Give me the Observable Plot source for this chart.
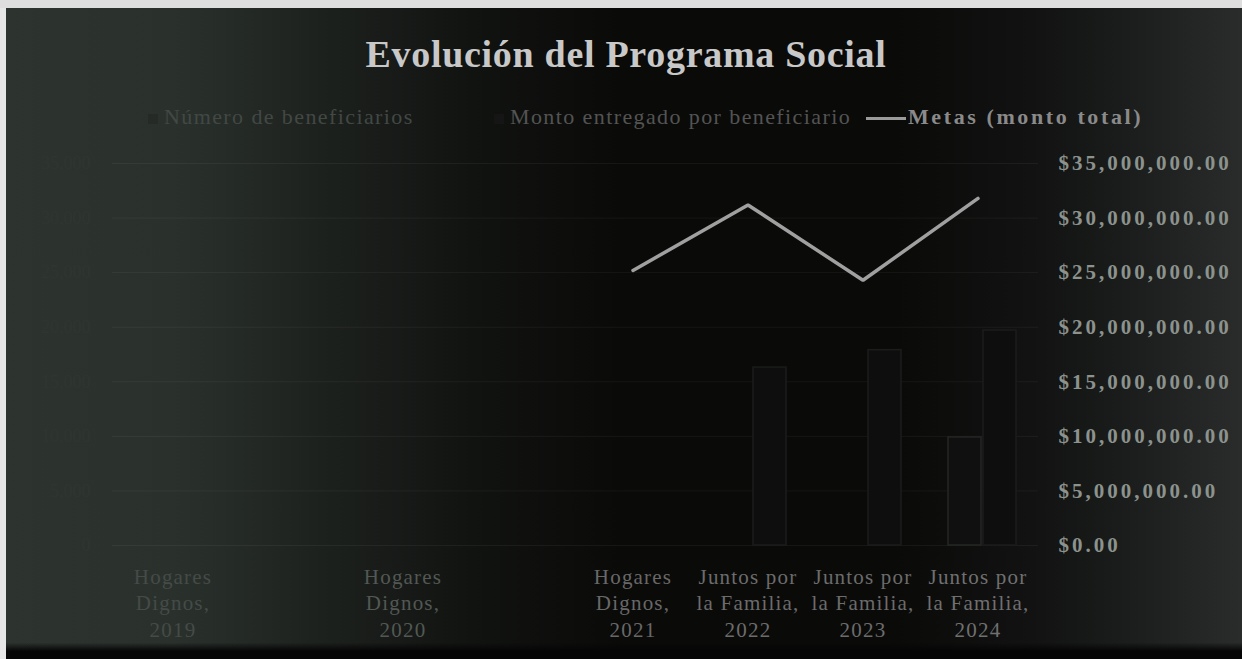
<!DOCTYPE html>
<html>
<head>
<meta charset="utf-8">
<script src="https://cdn.jsdelivr.net/npm/d3@7"></script>
<script src="https://cdn.jsdelivr.net/npm/@observablehq/plot@0.6"></script>
<style>
  html, body { margin: 0; padding: 0; }
  body { width: 1242px; height: 659px; overflow: hidden; position: relative;
    background: #0c0c0b; font-family: "Liberation Serif", serif; }
  #bg { position: absolute; left: 0; top: 0; width: 1242px; height: 659px;
    background:
      linear-gradient(180deg, rgba(0,0,0,0) 0%, rgba(0,0,0,0) 97.5%, #050505 98.8%),
      linear-gradient(90deg, #2d3430 0%, #2a312d 14%, #1d211e 26%, #111311 38%, #0a0a09 50%, #0a0a09 72%, #111211 83%, #1c1f1d 92%, #292c2a 100%);
  }
  #edgeL { position: absolute; left: 0; top: 0; width: 6px; height: 659px; background: #e6e6e6; }
  #edgeT { position: absolute; left: 0; top: 0; width: 1242px; height: 8px; background: #dedede; }
  #title { position: absolute; top: 32px; left: 0; width: 1252px; text-align: center;
    font-family: "Liberation Serif", serif; font-weight: bold; font-size: 38px;
    letter-spacing: 0.7px; color: #c8c8c8; }
  #legend { position: absolute; top: 104px; left: 0; width: 1242px; height: 26px;
    font-family: "Liberation Serif", serif; font-size: 22px; letter-spacing: 1.4px; }
  .li { position: absolute; top: 0; white-space: nowrap; }
  #chart { position: absolute; left: 0; top: 140px; }
</style>
</head>
<body>
<div id="bg"></div>
<div id="edgeL"></div>
<div id="edgeT"></div>
<div id="title">Evolución del Programa Social</div>
<div id="legend">
  <span class="li" style="left:148px;color:#424844"><span style="display:inline-block;width:10px;height:10px;background:#262a27;margin-right:6px"></span>Número de beneficiarios</span>
  <span class="li" style="left:494px;color:#535453"><span style="display:inline-block;width:10px;height:10px;background:#141514;margin-right:6px"></span>Monto entregado por beneficiario</span>
  <span class="li" style="left:866px;color:#8a8a8a;font-weight:bold;letter-spacing:2.6px"><span style="display:inline-block;width:40px;height:3px;background:#9a9a9a;vertical-align:middle;margin-right:2px"></span>Metas (monto total)</span>
</div>
<div id="chart"></div>
<script>
// ---- data ----
const categories = [
  "Hogares Dignos, 2019", "", "Hogares Dignos, 2020", " ",
  "Hogares Dignos, 2021", "Juntos por la Familia, 2022",
  "Juntos por la Familia, 2023", "Juntos por la Familia, 2024"
];
const tickLabels = [
  "Hogares\nDignos,\n2019", "", "Hogares\nDignos,\n2020", "",
  "Hogares\nDignos,\n2021", "Juntos por\nla Familia,\n2022",
  "Juntos por\nla Familia,\n2023", "Juntos por\nla Familia,\n2024"
];
// left axis (number units)
const beneficiarios = [null, null, null, null, null, null, null, 9900];
const montoPorBeneficiario = [null, null, null, null, null, 16300, 17900, 19700];
// right axis (pesos)
const metas = [null, null, null, null, 25200000, 31200000, 24300000, 31800000];
const rightTicks = [0, 5e6, 10e6, 15e6, 20e6, 25e6, 30e6, 35e6];
const leftTicks = [0, 5000, 10000, 15000, 20000, 25000, 30000, 35000];
const leftToRight = 1000;

// ---- styles ----
const labelColors = ["#454b47", "#454b47", "#525853", "#454b47", "#686868", "#6c6c6c", "#6c6c6c", "#707070"];

const rows = categories.map((c, i) => ({
  c, i, label: tickLabels[i],
  ben: beneficiarios[i] == null ? null : beneficiarios[i] * leftToRight,
  monto: montoPorBeneficiario[i] == null ? null : montoPorBeneficiario[i] * leftToRight,
  meta: metas[i]
}));

const fmtMoney = d3.format("$,.2f");
const fmtNum = d3.format(",");

const chart = Plot.plot({
  width: 1242,
  height: 519,
  marginTop: 23,
  marginBottom: 114,
  marginLeft: 112,
  marginRight: 204,
  style: { background: "transparent", fontFamily: "Liberation Serif, serif" },
  x: { domain: categories, padding: 0, axis: null },
  y: { domain: [0, 35e6], axis: null },
  marks: [
    Plot.gridY(rightTicks, { stroke: "#ffffff", strokeOpacity: 0.05, strokeWidth: 1 }),
    Plot.barY(rows.filter(d => d.ben != null), {
      x: "c", y: "ben", fill: "#0f100f", stroke: "#252725", strokeWidth: 1.5,
      insetLeft: 28, insetRight: 54
    }),
    Plot.barY(rows.filter(d => d.monto != null), {
      x: "c", y: "monto", fill: "#0d0e0d", stroke: "#1b1d1b", strokeWidth: 1.5,
      insetLeft: 63, insetRight: 19
    }),
    Plot.line(rows.filter(d => d.meta != null), {
      x: "c", y: "meta", stroke: "#a0a0a0", strokeWidth: 3.5, strokeLinejoin: "miter"
    }),
    Plot.axisY(rightTicks, {
      anchor: "right", tickSize: 0, tickPadding: 20, tickFormat: fmtMoney,
      fontSize: 21, fontWeight: "bold", fill: "#8c928d"
    }),
    Plot.axisY(leftTicks.map(v => v * leftToRight), {
      anchor: "left", tickSize: 0, tickPadding: 22,
      tickFormat: v => fmtNum(v / leftToRight),
      fontSize: 18, fill: "#2f3531"
    }),
    Plot.text(rows, {
      x: "c", text: "label", frameAnchor: "bottom", lineAnchor: "top",
      dy: 20, fontSize: 21, lineHeight: 1.25,
      fill: (d) => labelColors[d.i]
    })
  ]
});
// letter spacing tweaks (the photographed chart's fonts are wider)
d3.select(chart).selectAll('g[aria-label="y-axis tick label"]')
  .filter(function() { return this.getAttribute("text-anchor") === "start"; })
  .style("letter-spacing", "3px");
d3.select(chart).selectAll('g[aria-label="text"]').style("letter-spacing", "1.2px");
document.getElementById("chart").appendChild(chart);
</script>
</body>
</html>
